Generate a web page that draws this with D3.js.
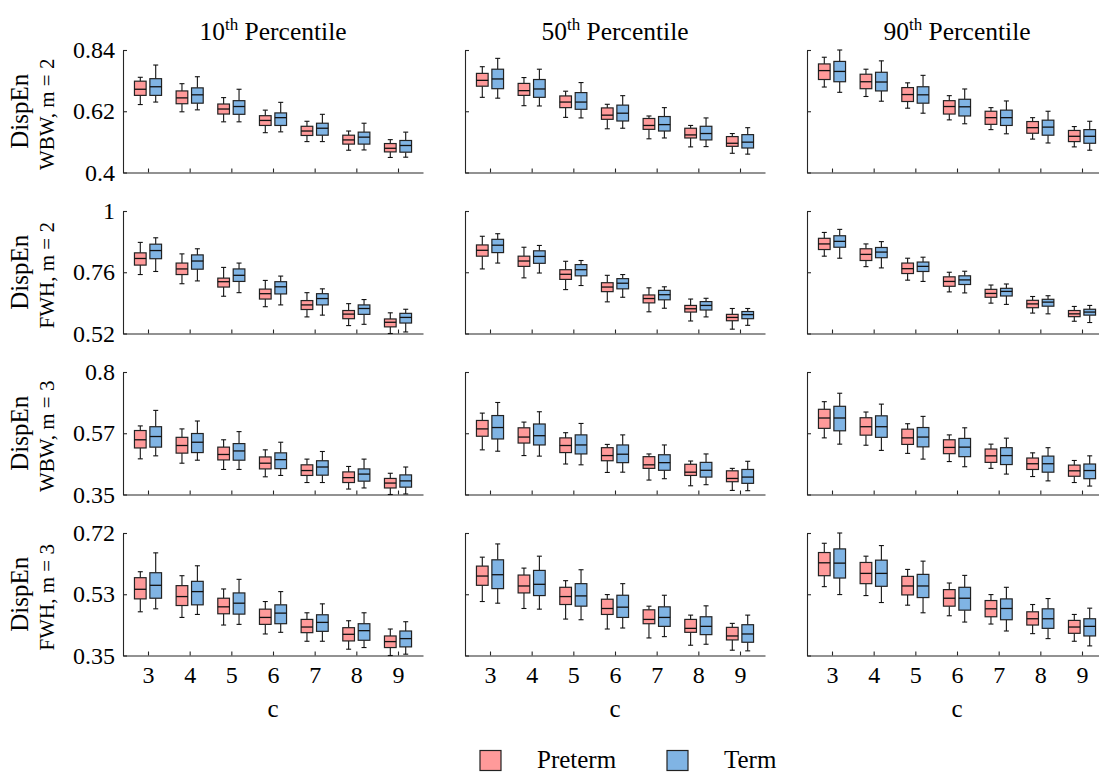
<!DOCTYPE html>
<html>
<head>
<meta charset="utf-8">
<script src="https://cdn.jsdelivr.net/npm/d3@7"></script>
<style>
  body { margin: 0; background: #fff; }
  svg { display: block; }
  text { font-family: "Liberation Serif", "Times New Roman", serif; fill: #000; }
</style>
</head>
<body>
<div id="chart"></div>
<script>
// categories and labels
const cValues = [3, 4, 5, 6, 7, 8, 9];
const groupNames = ["Preterm", "Term"];
const groupColors = ["#ff9a9a", "#80b4e4"];
const percentiles = ["10", "50", "90"];
const rowLabels = ["WBW, m = 2", "FWH, m = 2", "WBW, m = 3", "FWH, m = 3"];
const rowDomains = [[0.4, 0.84], [0.52, 1], [0.35, 0.8], [0.35, 0.72]];
const rowTickValues = [[0.4, 0.62, 0.84], [0.52, 0.76, 1], [0.35, 0.575, 0.8], [0.35, 0.535, 0.72]];
const rowTickLabels = [["0.4", "0.62", "0.84"], ["0.52", "0.76", "1"], ["0.35", "0.57", "0.8"], ["0.35", "0.53", "0.72"]];

// each box: [lower whisker, q1, median, q3, upper whisker], one per c = 3..9
// row 1: WBW, m = 2
const wbw2_p10_pre = [[0.644,0.677,0.699,0.728,0.742],[0.618,0.647,0.668,0.693,0.719],[0.582,0.610,0.628,0.646,0.669],[0.543,0.569,0.587,0.604,0.624],[0.511,0.533,0.549,0.566,0.584],[0.480,0.502,0.517,0.534,0.549],[0.454,0.474,0.487,0.504,0.518]];
const wbw2_p10_term = [[0.653,0.677,0.708,0.737,0.786],[0.625,0.649,0.679,0.704,0.744],[0.582,0.609,0.637,0.658,0.699],[0.546,0.569,0.597,0.614,0.652],[0.511,0.534,0.559,0.577,0.609],[0.481,0.502,0.527,0.545,0.577],[0.455,0.473,0.497,0.515,0.545]];
const wbw2_p50_pre = [[0.670,0.710,0.731,0.756,0.780],[0.640,0.677,0.694,0.720,0.741],[0.598,0.633,0.653,0.675,0.692],[0.557,0.591,0.606,0.632,0.645],[0.521,0.555,0.569,0.594,0.603],[0.492,0.524,0.535,0.559,0.569],[0.469,0.494,0.505,0.529,0.540]];
const wbw2_p50_term = [[0.667,0.701,0.736,0.771,0.810],[0.639,0.670,0.700,0.734,0.771],[0.596,0.627,0.653,0.687,0.723],[0.559,0.585,0.613,0.642,0.676],[0.524,0.549,0.572,0.601,0.633],[0.493,0.517,0.540,0.566,0.596],[0.466,0.488,0.509,0.536,0.561]];
const wbw2_p90_pre = [[0.707,0.734,0.766,0.790,0.814],[0.673,0.701,0.726,0.753,0.771],[0.631,0.655,0.680,0.705,0.722],[0.589,0.610,0.637,0.658,0.676],[0.554,0.573,0.597,0.620,0.633],[0.520,0.541,0.561,0.583,0.597],[0.492,0.511,0.530,0.551,0.565]];
const wbw2_p90_term = [[0.688,0.726,0.763,0.799,0.840],[0.656,0.693,0.725,0.760,0.801],[0.613,0.649,0.679,0.708,0.749],[0.575,0.603,0.636,0.663,0.700],[0.539,0.569,0.597,0.624,0.657],[0.506,0.534,0.563,0.588,0.620],[0.480,0.505,0.530,0.554,0.584]];
// row 2: FWH, m = 2
const fwh2_p10_pre = [[0.751,0.788,0.814,0.836,0.877],[0.715,0.751,0.773,0.796,0.832],[0.666,0.702,0.723,0.737,0.779],[0.625,0.655,0.676,0.694,0.728],[0.585,0.614,0.632,0.649,0.680],[0.551,0.578,0.596,0.610,0.637],[0.520,0.546,0.564,0.577,0.601]];
const fwh2_p10_term = [[0.763,0.813,0.845,0.870,0.895],[0.726,0.772,0.804,0.828,0.852],[0.680,0.724,0.748,0.773,0.796],[0.632,0.675,0.703,0.723,0.745],[0.592,0.632,0.657,0.676,0.695],[0.556,0.595,0.618,0.632,0.653],[0.526,0.561,0.583,0.599,0.615]];
const fwh2_p50_pre = [[0.773,0.823,0.846,0.867,0.901],[0.738,0.783,0.804,0.823,0.858],[0.692,0.732,0.752,0.770,0.803],[0.644,0.684,0.702,0.719,0.748],[0.605,0.640,0.657,0.671,0.699],[0.569,0.604,0.617,0.630,0.655],[0.537,0.570,0.583,0.595,0.618]];
const fwh2_p50_term = [[0.796,0.837,0.866,0.889,0.911],[0.757,0.795,0.822,0.844,0.865],[0.708,0.746,0.770,0.790,0.806],[0.662,0.695,0.717,0.735,0.751],[0.619,0.652,0.672,0.689,0.703],[0.585,0.612,0.630,0.645,0.658],[0.552,0.578,0.594,0.606,0.618]];
const fwh2_p90_pre = [[0.823,0.849,0.871,0.893,0.916],[0.782,0.806,0.830,0.852,0.871],[0.729,0.755,0.774,0.796,0.815],[0.683,0.705,0.724,0.742,0.760],[0.639,0.662,0.677,0.693,0.710],[0.600,0.621,0.636,0.650,0.665],[0.568,0.586,0.597,0.610,0.626]];
const fwh2_p90_term = [[0.815,0.858,0.881,0.903,0.928],[0.777,0.817,0.839,0.857,0.880],[0.724,0.763,0.783,0.800,0.819],[0.679,0.712,0.730,0.746,0.764],[0.634,0.667,0.685,0.697,0.714],[0.597,0.627,0.643,0.654,0.668],[0.563,0.592,0.604,0.615,0.630]];
// row 3: WBW, m = 3
const wbw3_p10_pre = [[0.481,0.521,0.551,0.585,0.602],[0.465,0.502,0.530,0.560,0.591],[0.442,0.477,0.497,0.524,0.551],[0.415,0.444,0.465,0.488,0.514],[0.394,0.420,0.438,0.459,0.480],[0.370,0.394,0.412,0.433,0.453],[0.350,0.374,0.392,0.409,0.428]];
const wbw3_p10_term = [[0.492,0.524,0.563,0.599,0.659],[0.476,0.504,0.542,0.574,0.620],[0.442,0.476,0.510,0.537,0.581],[0.420,0.445,0.478,0.503,0.542],[0.394,0.421,0.451,0.474,0.508],[0.374,0.399,0.425,0.444,0.480],[0.352,0.377,0.400,0.422,0.451]];
const wbw3_p50_pre = [[0.514,0.564,0.591,0.622,0.649],[0.493,0.539,0.561,0.595,0.616],[0.462,0.504,0.530,0.558,0.577],[0.431,0.474,0.493,0.522,0.534],[0.403,0.446,0.459,0.489,0.499],[0.382,0.420,0.432,0.461,0.473],[0.365,0.397,0.409,0.437,0.446]];
const wbw3_p50_term = [[0.509,0.554,0.596,0.640,0.688],[0.491,0.532,0.566,0.609,0.654],[0.459,0.499,0.532,0.569,0.611],[0.432,0.467,0.498,0.532,0.569],[0.408,0.439,0.467,0.496,0.532],[0.386,0.414,0.439,0.468,0.499],[0.364,0.391,0.414,0.442,0.472]];
const wbw3_p90_pre = [[0.558,0.593,0.631,0.663,0.691],[0.531,0.568,0.599,0.632,0.653],[0.501,0.534,0.558,0.590,0.610],[0.471,0.500,0.523,0.551,0.569],[0.446,0.468,0.492,0.517,0.535],[0.416,0.442,0.463,0.484,0.503],[0.394,0.417,0.437,0.458,0.475]];
const wbw3_p90_term = [[0.535,0.584,0.631,0.674,0.722],[0.512,0.560,0.599,0.639,0.682],[0.480,0.525,0.561,0.596,0.637],[0.452,0.489,0.524,0.556,0.595],[0.425,0.460,0.493,0.522,0.557],[0.400,0.432,0.463,0.491,0.522],[0.381,0.408,0.438,0.462,0.492]];
// row 4: FWH, m = 3
const fwh3_p10_pre = [[0.482,0.521,0.550,0.585,0.603],[0.465,0.501,0.528,0.561,0.591],[0.442,0.476,0.497,0.523,0.551],[0.415,0.444,0.465,0.490,0.513],[0.393,0.419,0.436,0.459,0.479],[0.369,0.394,0.414,0.434,0.455],[0.350,0.374,0.392,0.409,0.430]];
const fwh3_p10_term = [[0.491,0.523,0.562,0.600,0.660],[0.474,0.503,0.543,0.574,0.621],[0.444,0.475,0.508,0.539,0.580],[0.420,0.446,0.478,0.503,0.543],[0.393,0.423,0.450,0.473,0.506],[0.374,0.396,0.425,0.446,0.479],[0.354,0.376,0.401,0.424,0.452]];
const fwh3_p50_pre = [[0.513,0.562,0.590,0.620,0.647],[0.492,0.539,0.560,0.593,0.614],[0.460,0.504,0.528,0.556,0.576],[0.430,0.474,0.492,0.520,0.534],[0.403,0.446,0.459,0.488,0.499],[0.381,0.420,0.432,0.459,0.472],[0.366,0.397,0.409,0.435,0.447]];
const fwh3_p50_term = [[0.508,0.552,0.594,0.639,0.687],[0.490,0.531,0.565,0.607,0.650],[0.458,0.499,0.530,0.567,0.609],[0.433,0.465,0.496,0.532,0.567],[0.407,0.438,0.465,0.497,0.532],[0.384,0.413,0.438,0.467,0.500],[0.364,0.390,0.415,0.443,0.472]];
const fwh3_p90_pre = [[0.558,0.591,0.630,0.661,0.689],[0.531,0.567,0.598,0.631,0.650],[0.502,0.533,0.560,0.589,0.610],[0.470,0.499,0.523,0.549,0.569],[0.445,0.467,0.491,0.516,0.534],[0.416,0.442,0.461,0.482,0.504],[0.393,0.417,0.436,0.456,0.474]];
const fwh3_p90_term = [[0.534,0.584,0.629,0.672,0.720],[0.510,0.559,0.598,0.638,0.682],[0.479,0.525,0.560,0.595,0.635],[0.451,0.487,0.523,0.556,0.592],[0.424,0.458,0.492,0.521,0.556],[0.401,0.432,0.461,0.491,0.522],[0.379,0.409,0.438,0.461,0.493]];

const panels = [
  [[wbw2_p10_pre, wbw2_p10_term], [wbw2_p50_pre, wbw2_p50_term], [wbw2_p90_pre, wbw2_p90_term]],
  [[fwh2_p10_pre, fwh2_p10_term], [fwh2_p50_pre, fwh2_p50_term], [fwh2_p90_pre, fwh2_p90_term]],
  [[wbw3_p10_pre, wbw3_p10_term], [wbw3_p50_pre, wbw3_p50_term], [wbw3_p90_pre, wbw3_p90_term]],
  [[fwh3_p10_pre, fwh3_p10_term], [fwh3_p50_pre, fwh3_p50_term], [fwh3_p90_pre, fwh3_p90_term]]
];

// layout
const W = 1099, H = 773;
const colLeft = [123, 465, 807];
const rowTop = [50, 211, 372, 533];
const pw = 300, ph = 122.5;
const axisColor = "#262626";
const serif = '"Liberation Serif", "Times New Roman", serif';

const svg = d3.select("#chart").append("svg")
  .attr("width", W).attr("height", H);
svg.append("rect").attr("width", W).attr("height", H).attr("fill", "#fff");

const x = d3.scaleLinear().domain([2.4, 9.6]).range([0, pw]);
const groupOffset = [-0.185, 0.185]; // in c units
const boxHalf = 0.14, capHalf = 0.06;

panels.forEach(function(row, ri) {
  const y = d3.scaleLinear().domain(rowDomains[ri]).range([ph, 0]);
  row.forEach(function(groups, ci) {
    const g = svg.append("g")
      .attr("transform", "translate(" + colLeft[ci] + "," + rowTop[ri] + ")");

    // axes
    const yAxis = d3.axisLeft(y)
      .tickValues(rowTickValues[ri])
      .tickSize(-4).tickSizeOuter(0).tickPadding(8)
      .tickFormat(function(d, i) { return ci === 0 ? rowTickLabels[ri][i] : ""; });
    const xAxis = d3.axisBottom(x)
      .tickValues(cValues)
      .tickSize(-4).tickSizeOuter(0).tickPadding(10)
      .tickFormat(function(d) { return ri === 3 ? d : ""; });

    const ya = g.append("g").call(yAxis);
    const xa = g.append("g").attr("transform", "translate(0," + ph + ")").call(xAxis);
    [ya, xa].forEach(function(a) {
      a.attr("font-family", serif);
      a.selectAll("path, line").attr("stroke", axisColor).attr("stroke-width", 1.1);
      a.selectAll("text")
        .style("font-family", serif)
        .style("font-size", "24px").attr("fill", "#000");
    });

    // boxes
    groups.forEach(function(series, gi) {
      const bg = g.append("g");
      series.forEach(function(s, k) {
        const c = cValues[k] + groupOffset[gi];
        const x0 = x(c - boxHalf), x1 = x(c + boxHalf), xm = x(c);
        // whiskers
        bg.append("line").attr("x1", xm).attr("x2", xm).attr("y1", y(s[0])).attr("y2", y(s[1]))
          .attr("stroke", "#111").attr("stroke-width", 1.1);
        bg.append("line").attr("x1", xm).attr("x2", xm).attr("y1", y(s[3])).attr("y2", y(s[4]))
          .attr("stroke", "#111").attr("stroke-width", 1.1);
        [s[0], s[4]].forEach(function(v) {
          bg.append("line").attr("x1", x(c - capHalf)).attr("x2", x(c + capHalf))
            .attr("y1", y(v)).attr("y2", y(v))
            .attr("stroke", "#111").attr("stroke-width", 1.1);
        });
        bg.append("rect")
          .attr("x", x0).attr("y", y(s[3]))
          .attr("width", x1 - x0).attr("height", y(s[1]) - y(s[3]))
          .attr("fill", groupColors[gi]).attr("stroke", "#222").attr("stroke-width", 1.2);
        bg.append("line").attr("x1", x0).attr("x2", x1).attr("y1", y(s[2])).attr("y2", y(s[2]))
          .attr("stroke", "#111").attr("stroke-width", 1.3);
      });
    });

    // column titles
    if (ri === 0) {
      const t = svg.append("text")
        .attr("x", colLeft[ci] + pw / 2).attr("y", 40)
        .attr("text-anchor", "middle").style("font-size", "25.5px");
      t.append("tspan").text(percentiles[ci]);
      t.append("tspan").attr("dy", -10).style("font-size", "17px").text("th");
      t.append("tspan").attr("dy", 10).text(" Percentile");
    }
    // x label
    if (ri === 3) {
      svg.append("text")
        .attr("x", colLeft[ci] + pw / 2).attr("y", 717)
        .attr("text-anchor", "middle").style("font-size", "25px").text("c");
    }
  });

  // row labels
  const cy = rowTop[ri] + ph / 2;
  svg.append("text")
    .attr("transform", "translate(28," + cy + ") rotate(-90)")
    .attr("text-anchor", "middle").style("font-size", "25px").text("DispEn");
  svg.append("text")
    .attr("transform", "translate(54," + (cy + 3) + ") rotate(-90)")
    .attr("text-anchor", "middle").style("font-size", "21px").text(rowLabels[ri]);
});

// legend
const legendX = [480, 667];
groupNames.forEach(function(name, i) {
  svg.append("rect")
    .attr("x", legendX[i]).attr("y", 750.5)
    .attr("width", 21).attr("height", 20)
    .attr("fill", groupColors[i]).attr("stroke", "#222").attr("stroke-width", 1.2);
  svg.append("text")
    .attr("x", legendX[i] + 57).attr("y", 768)
    .style("font-size", "25px").text(name);
});
</script>
</body>
</html>
